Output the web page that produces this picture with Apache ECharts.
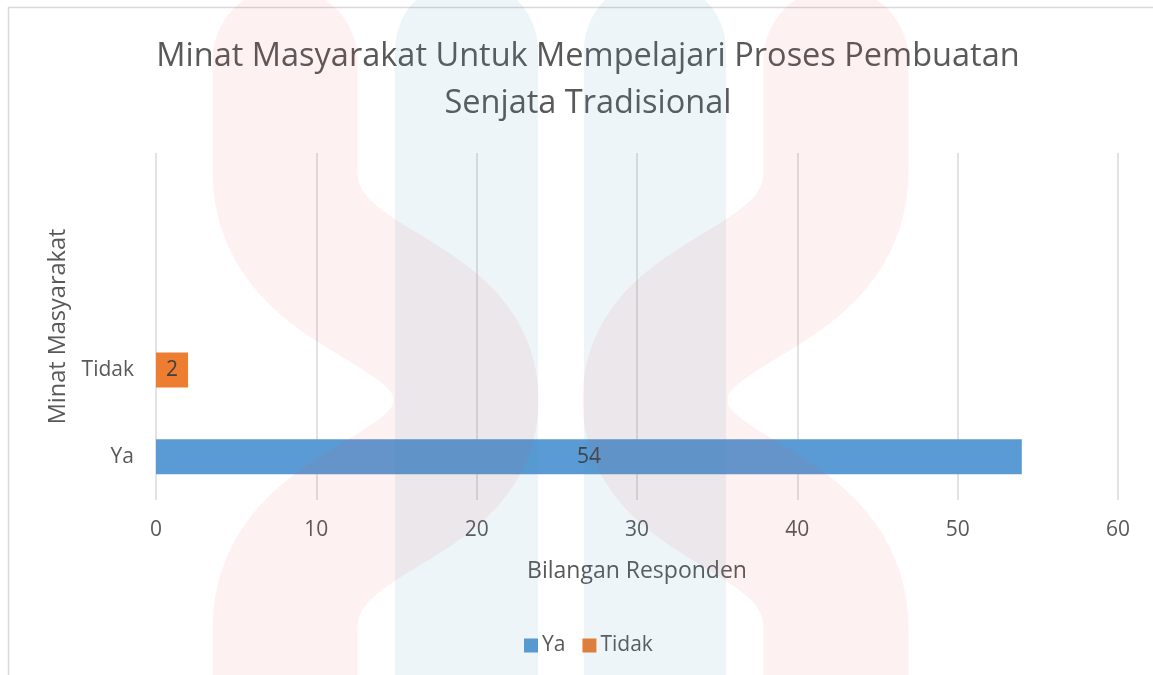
<!DOCTYPE html>
<html>
<head>
<meta charset="utf-8">
<script src="https://cdn.jsdelivr.net/npm/echarts@6/dist/echarts.min.js"></script>
<style>
  html, body { margin: 0; padding: 0; background: #fff; }
  #chart { width: 1153px; height: 675px; }
</style>
</head>
<body>
<div id="chart"></div>
<script>
// data
const categories = ['Ya', 'Tidak'];
const seriesNames = ['Ya', 'Tidak'];
const yaValues = [54, null];
const tidakValues = [null, 2];
const xTicks = [0, 10, 20, 30, 40, 50, 60];

const titleText = 'Minat Masyarakat Untuk Mempelajari Proses Pembuatan\nSenjata Tradisional';
const FONT = '"Open Sans", sans-serif';
const textColor = '#595959';

// excel leaves two empty slots above the bars
const axisCats = categories.concat(['', '']);

const chart = echarts.init(document.getElementById('chart'));

// faint logo that sits over the original picture
function bez(p0, p1, p2, p3, n) {
  const out = [];
  for (let i = 0; i <= n; i++) {
    const t = i / n, u = 1 - t;
    out.push([
      u * u * u * p0[0] + 3 * u * u * t * p1[0] + 3 * u * t * t * p2[0] + t * t * t * p3[0],
      u * u * u * p0[1] + 3 * u * u * t * p1[1] + 3 * u * t * t * p2[1] + t * t * t * p3[1]
    ]);
  }
  return out;
}
function logoArm(outer, inner) {
  return [[outer, 60]]
    .concat(bez([outer, 170], [outer, 300], [inner, 290], [inner, 400], 40))
    .concat(bez([inner, 400], [inner, 510], [outer, 500], [outer, 630], 40).slice(1))
    .concat([[outer, 760]]);
}
const redStyle = { fill: null, stroke: 'rgba(230,50,50,0.07)', lineWidth: 145, lineCap: 'round', lineJoin: 'round' };

const option = {
  backgroundColor: '#fff',
  animation: false,
  textStyle: { fontFamily: FONT },
  title: {
    text: titleText,
    left: 583,
    top: 28,
    textAlign: 'center',
    textStyle: {
      fontFamily: FONT,
      fontWeight: 'normal',
      fontSize: 32.5,
      lineHeight: 47,
      color: textColor
    }
  },
  legend: {
    data: seriesNames,
    left: 519,
    top: 630,
    icon: 'rect',
    itemWidth: 14,
    itemHeight: 14,
    itemGap: 17,
    textStyle: { fontFamily: FONT, fontSize: 21, color: textColor, padding: [0, 0, 0, -1] }
  },
  grid: { left: 156, right: 35, top: 153, bottom: 175, containLabel: false },
  xAxis: {
    type: 'value',
    min: xTicks[0],
    max: xTicks[xTicks.length - 1],
    interval: 10,
    name: 'Bilangan Responden',
    nameLocation: 'middle',
    nameGap: 60,
    nameTextStyle: { fontFamily: FONT, fontSize: 23, color: textColor },
    axisLine: { show: false },
    axisTick: { show: false },
    axisLabel: { margin: 20, fontFamily: FONT, fontSize: 21, color: textColor },
    splitLine: { lineStyle: { color: '#d9d9d9', width: 1.5 } }
  },
  yAxis: {
    type: 'category',
    data: axisCats,
    name: 'Minat Masyarakat',
    nameLocation: 'middle',
    nameRotate: 90,
    nameGap: 84,
    nameTextStyle: { fontFamily: FONT, fontSize: 23.5, color: textColor },
    axisLine: { show: false },
    axisTick: { show: false },
    axisLabel: { margin: 22, fontFamily: FONT, fontSize: 21, color: textColor },
    splitLine: { show: false }
  },
  series: [
    {
      name: seriesNames[0],
      type: 'bar',
      stack: 'all',
      barWidth: 35,
      data: yaValues,
      itemStyle: { color: '#5B9BD5' },
      label: { show: true, position: 'inside', fontFamily: FONT, fontSize: 21, color: '#404040' }
    },
    {
      name: seriesNames[1],
      type: 'bar',
      stack: 'all',
      barWidth: 35,
      data: tidakValues,
      itemStyle: { color: '#ED7D31' },
      label: { show: true, position: 'inside', fontFamily: FONT, fontSize: 21, color: '#404040' }
    }
  ],
  graphic: [
    // chart border
    {
      type: 'rect', silent: true, z: -1,
      shape: { x: 8.5, y: 7.5, width: 1200, height: 720 },
      style: { fill: null, stroke: '#d9d9d9', lineWidth: 1.5 }
    },
    {
      type: 'rect', silent: true, z: 100,
      shape: { x: 395, y: -20, width: 143, height: 720, r: [70, 70, 0, 0] },
      style: { fill: 'rgba(60,140,190,0.09)' }
    },
    {
      type: 'rect', silent: true, z: 100,
      shape: { x: 584, y: -20, width: 142, height: 720, r: [70, 70, 0, 0] },
      style: { fill: 'rgba(60,140,190,0.09)' }
    },
    {
      type: 'polyline', silent: true, z: 101,
      shape: { points: logoArm(285, 466) },
      style: redStyle
    },
    {
      type: 'polyline', silent: true, z: 101,
      shape: { points: logoArm(836, 655) },
      style: redStyle
    }
  ]
};

chart.setOption(option);
</script>
</body>
</html>
